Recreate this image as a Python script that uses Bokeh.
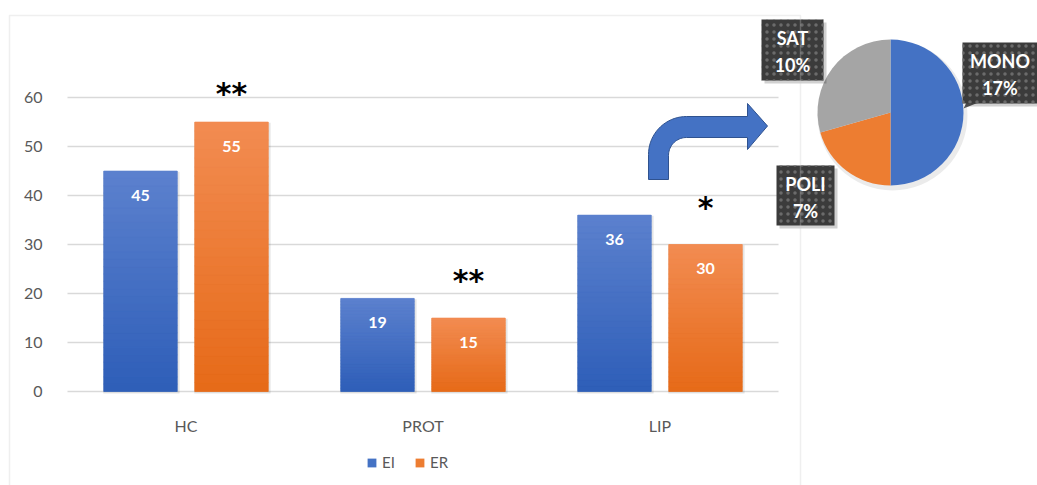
import numpy as np
from bokeh.plotting import figure
from bokeh.models import Range1d, FixedTicker, Legend, LegendItem, BoxAnnotation
from bokeh.core.properties import value
from bokeh.embed import file_html
from bokeh.resources import INLINE

# ---------------- data ----------------
categories = ["HC", "PROT", "LIP"]
series_names = ["EI", "ER"]
ei_values = [45, 19, 36]
er_values = [55, 15, 30]
significance = ["**", "**", "*"]
y_ticks = [0, 10, 20, 30, 40, 50, 60]

fat_types = ["MONO", "POLI", "SAT"]
fat_values = [17, 7, 10]

# ---------------- layout / style ----------------
W, H = 1037, 485
X0, Y0 = 67, 391            # screen position of data origin
PX_PER_CAT = 237.0
PX_PER_UNIT = 4.9
FONT = "Lato"
C_EI, C_ER, C_SAT = "#4472C4", "#ED7D31", "#A5A5A5"
GRAD_EI = ((46, 94, 184), (92, 129, 206))     # bottom, top
GRAD_ER = ((230, 106, 24), (242, 140, 82))
star_offsets = [-29, -38, -37]

p = figure(width=W, height=H, output_backend="svg", toolbar_location=None,
           x_range=Range1d(-X0 / PX_PER_CAT, (W - X0) / PX_PER_CAT),
           y_range=Range1d(-(H - Y0) / PX_PER_UNIT, Y0 / PX_PER_UNIT),
           min_border=0)
p.extra_x_ranges = {"px": Range1d(0, W)}
p.extra_y_ranges = {"px": Range1d(0, H)}
p.outline_line_color = None
p.xgrid.visible = False
p.ygrid.visible = False


def Y(y):
    return H - np.asarray(y, dtype=float)


def hexc(rgb):
    return "#%02x%02x%02x" % tuple(int(round(c)) for c in rgb)


# outer chart border
p.add_layout(BoxAnnotation(left=9, right=800, top=Y(15), bottom=Y(500),
                           x_range_name="px", y_range_name="px",
                           fill_alpha=0, line_color="#c9c9c9", line_width=1.5))

# gridlines (only across the bar area)
n = len(categories)
p.segment(x0=[0] * len(y_ticks), x1=[n] * len(y_ticks), y0=y_ticks, y1=y_ticks,
          line_color="#d9d9d9", line_width=1.3)

x_idx = np.arange(n) + 0.5
off, bw = 0.192, 0.31

# soft bar shadows
for xs, vals in ((x_idx - off, ei_values), (x_idx + off, er_values)):
    p.vbar(x=xs + 0.004, top=np.array(vals) - 0.15, bottom=-0.4, width=bw + 0.012,
           fill_color="#000000", fill_alpha=0.10, line_color=None)

r_ei = p.vbar(x=x_idx - off, top=ei_values, width=bw, fill_color=C_EI, line_color=None)
r_er = p.vbar(x=x_idx + off, top=er_values, width=bw, fill_color=C_ER, line_color=None)

# vertical gradient overlay on each bar
K = 30
for xs, vals, (cb, ct) in ((x_idx - off, ei_values, GRAD_EI), (x_idx + off, er_values, GRAD_ER)):
    gx, gb, gt, gc = [], [], [], []
    for x, v in zip(xs, vals):
        for k in range(K):
            t = (k + 0.5) / K
            gx.append(x)
            gb.append(v * k / K)
            gt.append(v * (k + 1) / K)
            gc.append(hexc([cb[i] + (ct[i] - cb[i]) * t for i in range(3)]))
    p.vbar(x=gx, bottom=gb, top=gt, width=bw, fill_color=gc, line_color=gc, line_width=0.6)

# data labels
p.text(x=x_idx - off, y=ei_values, text=[str(v) for v in ei_values], text_align="center",
       text_baseline="middle", y_offset=24, text_color="white", text_font=value(FONT),
       text_font_style="bold", text_font_size="16px")
p.text(x=x_idx + off, y=er_values, text=[str(v) for v in er_values], text_align="center",
       text_baseline="middle", y_offset=24, text_color="white", text_font=value(FONT),
       text_font_style="bold", text_font_size="16px")

# significance stars
p.text(x=x_idx + off, y=er_values, text=significance, text_align="center",
       text_baseline="middle", y_offset=star_offsets, text_color="black",
       text_font=value("DejaVu Sans"), text_font_style="bold", text_font_size="30px")

# axes (drawn at the data origin)
p.xaxis.fixed_location = 0
p.yaxis.fixed_location = 0
p.yaxis.ticker = FixedTicker(ticks=y_ticks)
p.xaxis.ticker = FixedTicker(ticks=list(x_idx))
p.xaxis.major_label_overrides = {float(x): c for x, c in zip(x_idx, categories)}
for ax in (p.xaxis, p.yaxis):
    ax.axis_line_color = None
    ax.major_tick_line_color = None
    ax.minor_tick_line_color = None
    ax.major_label_text_color = "#595959"
    ax.major_label_text_font = FONT
    ax.major_label_text_font_size = "16px"
p.yaxis.major_label_standoff = 19
p.xaxis.major_label_standoff = 18

# legend
legend = Legend(items=[LegendItem(label=series_names[0], renderers=[r_ei]),
                       LegendItem(label=series_names[1], renderers=[r_er])],
                orientation="horizontal", location=(366, 14),
                glyph_width=11, glyph_height=11, label_standoff=5, spacing=12,
                padding=0, margin=0, border_line_color=None, background_fill_alpha=0,
                label_text_font=FONT, label_text_font_size="15px",
                label_text_color="#595959")
p.add_layout(legend)

# bent arrow
outer = np.linspace(np.pi, np.pi / 2, 20)
inner = np.linspace(np.pi / 2, np.pi, 20)
ocx, ocy, R = 686, 154, 38
icx, icy, r_in = 686, 155, 18
ax_ = [648, 648] + list(ocx + R * np.cos(outer)) + [747, 747, 767, 747, 747] + \
      list(icx + r_in * np.cos(inner)) + [668, 668]
ay_ = [179, 154] + list(ocy - R * np.sin(outer)) + [116, 103, 125.5, 149, 137] + \
      list(icy - r_in * np.sin(inner)) + [155, 179]
p.patch(x=ax_, y=Y(ay_), fill_color=C_EI, line_color="#2F528F", line_width=1,
        x_range_name="px", y_range_name="px")

# pie
cx, cy, pr = 890, 112, 73
total = float(sum(fat_values))
fr = np.array(fat_values) / total
ends = np.pi / 2 - 2 * np.pi * np.cumsum(fr)
starts = np.concatenate([[np.pi / 2], ends[:-1]])
p.circle(x=[cx + 2], y=Y([cy + 3]), radius=pr + 2, fill_color="#000000", fill_alpha=0.08,
         line_color=None, x_range_name="px", y_range_name="px")
p.wedge(x=cx, y=Y(cy), radius=pr, start_angle=starts, end_angle=ends, direction="clock",
        fill_color=[C_EI, C_ER, C_SAT], line_color=None,
        x_range_name="px", y_range_name="px")

# pie label boxes
box_cx = [999.5, 805, 792]
box_cy = [72.5, 195, 49.5]
box_w = [75, 58, 62]
box_h = [61, 60, 61]
# callout pointer for MONO
p.patch(x=[963, 966, 978], y=Y([108, 102, 102]), fill_color="#595959", line_color=None,
        x_range_name="px", y_range_name="px")
p.rect(x=np.array(box_cx) + 3, y=Y(np.array(box_cy) + 3), width=box_w, height=box_h,
       fill_color="#000000", fill_alpha=0.18, line_color=None,
       x_range_name="px", y_range_name="px")
p.rect(x=box_cx, y=Y(box_cy), width=box_w, height=box_h, fill_color="#3b3b3b",
       hatch_pattern="dot", hatch_color="#6b6b6b", hatch_scale=7, hatch_weight=1,
       line_color=None, x_range_name="px", y_range_name="px")
p.text(x=box_cx, y=Y(np.array(box_cy) - 12), text=fat_types, text_align="center",
       text_baseline="middle", text_color="white", text_font=value(FONT),
       text_font_style="bold", text_font_size="18px",
       x_range_name="px", y_range_name="px")
p.text(x=box_cx, y=Y(np.array(box_cy) + 15), text=[f"{v}%" for v in fat_values],
       text_align="center", text_baseline="middle", text_color="white",
       text_font=value(FONT), text_font_style="bold", text_font_size="18px",
       x_range_name="px", y_range_name="px")

open("out.html", "w").write(file_html(p, INLINE))
